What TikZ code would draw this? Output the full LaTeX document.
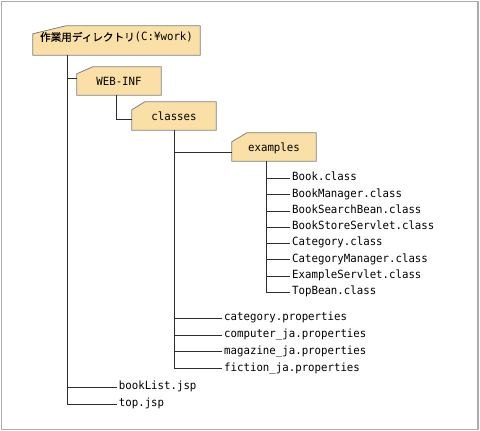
\documentclass[tikz,border=0pt]{standalone}
\usepackage{fontspec}
\setmainfont[FakeStretch=0.95]{DejaVu Sans Mono}
\newfontfamily\jpfont[FakeBold=0.4]{Noto Sans CJK JP}
\usetikzlibrary{calc}
\pgfdeclarelayer{bg}
\pgfsetlayers{bg,main}
\definecolor{foldfill}{RGB}{250,224,166}
\definecolor{foldline}{RGB}{128,128,128}
\definecolor{treeline}{RGB}{45,45,45}
\definecolor{framecol}{RGB}{172,172,172}
\begin{document}
\begin{tikzpicture}[x=1pt,y=-1pt,
  font=\fontsize{11.3}{13}\selectfont,
  folder/.style={inner sep=0pt, minimum width=84pt, minimum height=28pt, text height=8.2pt, text depth=0pt},
  item/.style={anchor=west, inner xsep=2pt, inner ysep=0pt, text height=8.2pt, text depth=3.4pt},
  tree/.style={draw=treeline, line width=0.8pt},
  foldshape/.style={fill=foldfill, draw=foldline, line width=0.8pt}]

\useasboundingbox (0,0) rectangle (480,431);
\draw[framecol, line width=1.5pt] (1.5,1.5) rectangle (478.2,429.5);

% folders
\node[folder, minimum width=167pt, minimum height=29pt, text height=8pt, text depth=7pt] (root) at (116.5,40.5)
  {{\jpfont\fontsize{10.6}{12}\selectfont 作業用ディレクトリ}(C:¥work)};
\node[folder] (webinf) at (119,81) {WEB-INF};
\node[folder] (classes) at (174,116) {classes};
\node[folder] (examples) at (274,147) {examples};

\begin{pgfonlayer}{bg}
\path[foldshape] ([yshift=-8pt]root.north west) -- ([xshift=33pt]root.north west) -- (root.north east) -- (root.south east) -- (root.south west) -- cycle;
\path[foldshape] ([yshift=-7pt]webinf.north west) -- ([xshift=16pt]webinf.north west) -- (webinf.north east) -- (webinf.south east) -- (webinf.south west) -- cycle;
\path[foldshape] ([yshift=-8pt]classes.north west) -- ([xshift=13pt]classes.north west) -- (classes.north east) -- (classes.south east) -- (classes.south west) -- cycle;
\path[foldshape] ([yshift=-9pt]examples.north west) -- ([xshift=15pt]examples.north west) -- (examples.north east) -- (examples.south east) -- (examples.south west) -- cycle;
\end{pgfonlayer}

% class files
\node[item] (book)      at (290,178.3) {Book.class};
\node[item] (bookman)   at (290,194.6) {BookManager.class};
\node[item] (booksearch) at (290,210.9) {BookSearchBean.class};
\node[item] (bookstore) at (290,227.2) {BookStoreServlet.class};
\node[item] (category)  at (290,243.5) {Category.class};
\node[item] (catman)    at (290,259.8) {CategoryManager.class};
\node[item] (exservlet) at (290,276.1) {ExampleServlet.class};
\node[item] (topbean)   at (290,292.4) {TopBean.class};

% properties
\node[item] (catprop)   at (222,318.3) {category.properties};
\node[item] (computer)  at (222,335.0) {computer\_ja.properties};
\node[item] (magazine)  at (222,351.7) {magazine\_ja.properties};
\node[item] (fiction)   at (222,368.7) {fiction\_ja.properties};

% jsp
\node[item] (booklist)  at (116.7,387.3) {bookList.jsp};
\node[item] (topjsp)    at (116.7,404.0) {top.jsp};

% tree lines
\draw[tree] ([xshift=35pt]root.south west) coordinate (r0) |- (topjsp.west);
\draw[tree] (r0 |- booklist.west) -- (booklist.west);
\draw[tree] ([yshift=3pt]webinf.west) -| (r0);

\draw[tree] ([xshift=40pt]webinf.south west) |- ([yshift=-3.5pt]classes.west);

\draw[tree] ([xshift=43pt]classes.south west) coordinate (c0) |- (fiction.west);
\draw[tree] ([yshift=-5pt]examples.west) -| (c0);
\foreach \n in {catprop,computer,magazine}
  \draw[tree] (c0 |- \n.west) -- (\n.west);

\draw[tree] ([xshift=35pt]examples.south west) coordinate (e0) |- (topbean.west);
\foreach \n in {book,bookman,booksearch,bookstore,category,catman,exservlet}
  \draw[tree] (e0 |- \n.west) -- (\n.west);
\end{tikzpicture}
\end{document}
